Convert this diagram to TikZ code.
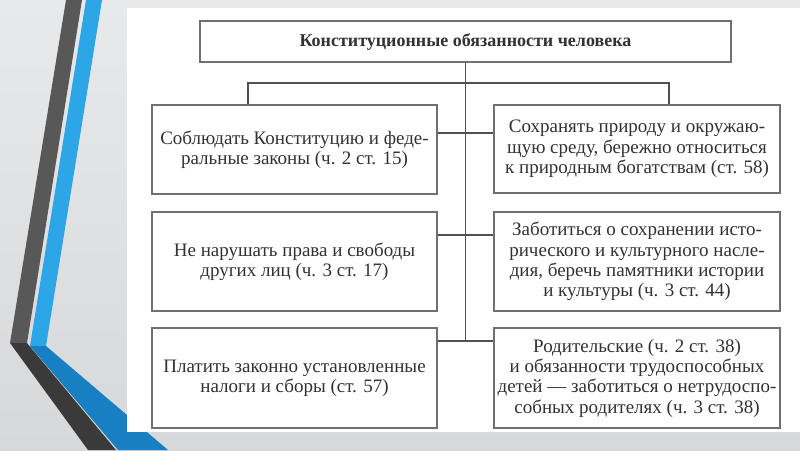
\documentclass[tikz,border=0pt]{standalone}
\usepackage{fontspec}
\setmainfont{Liberation Serif}
\usepackage{xcolor}
\usetikzlibrary{positioning, calc}
\definecolor{slidegray}{RGB}{214, 216, 217}
\definecolor{slidelight}{RGB}{232, 233, 234}
\definecolor{stripedark}{RGB}{88, 88, 88}
\definecolor{stripeblack}{RGB}{58, 58, 58}
\definecolor{stripeblue}{RGB}{44, 166, 230}
\definecolor{stripedeep}{RGB}{24, 128, 194}
\definecolor{boxline}{RGB}{112, 112, 112}
\definecolor{wireline}{RGB}{80, 80, 80}
\definecolor{inktext}{RGB}{50, 50, 50}

\tikzset{
  dutybox/.style={draw=boxline, line width=1.5pt, fill=white, text=inktext,
    align=center, inner sep=0pt, font=\fontsize{19}{20.3}\selectfont},
  wire/.style={draw=wireline, line width=1.2pt}
}

\begin{document}
\begin{tikzpicture}[x=1pt, y=-1pt]
    \useasboundingbox (0,0) rectangle (800,450);
    % fondo della slide
    \shade[top color=slidelight, bottom color=slidegray] (0,0) rectangle (800,450);
    \fill[stripedark] (66,0) -- (82,0) -- (27,343) -- (10,343) -- cycle;
    \fill[stripeblue] (86,0) -- (102,0) -- (46,346) -- (30,346) -- cycle;
    \fill[stripedeep] (30,346) -- (46,346) -- (168,450) -- (118,450) -- cycle;
    \fill[stripeblack] (10,343) -- (27,343) -- (116,450) -- (88,450) -- cycle;
    \fill[white] (127,8) rectangle (800,432);

    % schema
    \node[dutybox, minimum width=531pt, minimum height=41pt,
      font=\fontsize{18}{20}\bfseries] (title) at (465.5,41.5)
      {Конституционные обязанности человека};

    \node[dutybox, minimum width=285pt, minimum height=89pt] (l1) at (294.5,149.5)
      {Соблюдать Конституцию и феде-\\ральные законы (ч. 2 ст. 15)};
    \node[dutybox, minimum width=285pt, minimum height=99pt] (l2) at (294.5,261.5)
      {Не нарушать права и свободы\\других лиц (ч. 3 ст. 17)};
    \node[dutybox, minimum width=285pt, minimum height=100pt] (l3) at (294.5,378)
      {Платить законно установленные\\налоги и сборы (ст. 57)};

    \node[dutybox, minimum width=286pt, minimum height=88pt] (r1) at (637,149)
      {Сохранять природу и окружаю-\\щую среду, бережно относиться\\к природным богатствам (ст. 58)};
    \node[dutybox, minimum width=286pt, minimum height=99pt] (r2) at (637,261.5)
      {Заботиться о сохранении исто-\\рического и культурного насле-\\дия, беречь памятники истории\\и культуры (ч. 3 ст. 44)};
    \node[dutybox, minimum width=286pt, minimum height=100pt] (r3) at (637,378)
      {Родительские (ч. 2 ст. 38)\\и обязанности трудоспособных\\детей — заботиться о нетрудоспо-\\собных родителях (ч. 3 ст. 38)};

    \coordinate (bl) at (248,83);
    \coordinate (br) at (669,83);
    \coordinate (j1) at (465.5,133);
    \coordinate (j2) at (465.5,235);
    \coordinate (j3) at (465.5,341);

    \draw[wire] (title.south) -- (j3);
    \draw[wire] (bl |- l1.north) -- (bl) -- (br) -- (br |- r1.north);
    \draw[wire] (l1.east |- j1) -- (r1.west |- j1);
    \draw[wire] (l2.east |- j2) -- (r2.west |- j2);
    \draw[wire] (l3.east |- j3) -- (r3.west |- j3);
\end{tikzpicture}
\end{document}
